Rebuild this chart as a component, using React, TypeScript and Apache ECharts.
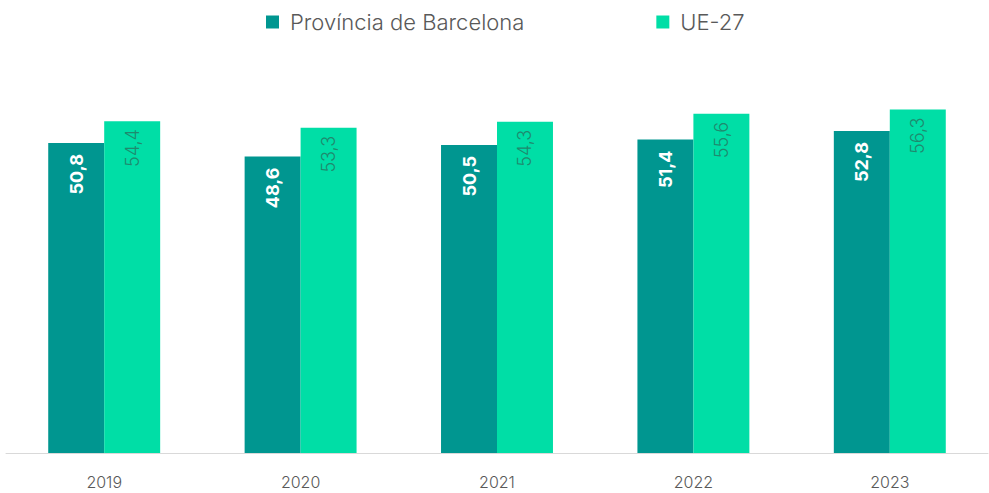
import React, { useEffect, useRef } from "react";
import * as echarts from "echarts";

const categories = ["2019", "2020", "2021", "2022", "2023"];
const barcelona = [50.8, 48.6, 50.5, 51.4, 52.8];
const ue27 = [54.4, 53.3, 54.3, 55.6, 56.3];
const seriesNames = ["Província de Barcelona", "UE-27"];

const fmt = (p: any) => String(p.value).replace(".", ",");
const FONT = "Inter, 'Open Sans', sans-serif";

export default function App() {
  const ref = useRef<HTMLDivElement>(null);
  useEffect(() => {
    if (!ref.current) return;
    const chart = echarts.init(ref.current, null, { renderer: "svg" });
    chart.setOption({
      animation: false,
      textStyle: { fontFamily: FONT },
      legend: {
        top: 6,
        left: 261,
        itemWidth: 13,
        itemHeight: 13,
        itemGap: 132,
        icon: "rect",
        textStyle: {
          fontSize: 22,
          fontWeight: 300,
          fontFamily: FONT,
          color: "#595959",
          padding: [0, 0, 0, 6],
        },
        data: seriesNames,
      },
      grid: { left: 6, right: 1, top: 87, bottom: 40 },
      xAxis: {
        type: "category",
        data: categories,
        axisTick: { show: false },
        axisLine: { lineStyle: { color: "#d9d9d9", width: 1 } },
        axisLabel: { color: "#595959", fontSize: 16, fontWeight: 300, fontFamily: FONT, margin: 21 },
      },
      yAxis: {
        type: "value",
        min: 0,
        max: 60,
        show: false,
        splitLine: { show: false },
      },
      series: [
        {
          name: seriesNames[0],
          type: "bar",
          data: barcelona,
          barGap: "0%",
          barCategoryGap: "43%",
          itemStyle: { color: "#009690" },
          label: {
            show: true,
            position: "insideTop",
            rotate: 90,
            align: "right",
            verticalAlign: "middle",
            distance: 11,
            color: "#ffffff",
            fontWeight: "bold",
            fontFamily: FONT,
            fontSize: 18,
            formatter: fmt,
          },
        },
        {
          name: seriesNames[1],
          type: "bar",
          data: ue27,
          itemStyle: { color: "#00dea6" },
          label: {
            show: true,
            position: "insideTop",
            rotate: 90,
            align: "right",
            verticalAlign: "middle",
            distance: 8,
            color: "#1f8a6e",
            fontWeight: 300,
            fontFamily: FONT,
            fontSize: 18,
            formatter: fmt,
          },
        },
      ],
    });
    return () => chart.dispose();
  }, []);
  return <div ref={ref} style={{ width: 989, height: 493, position: "absolute", left: 0, top: 0 }} />;
}
